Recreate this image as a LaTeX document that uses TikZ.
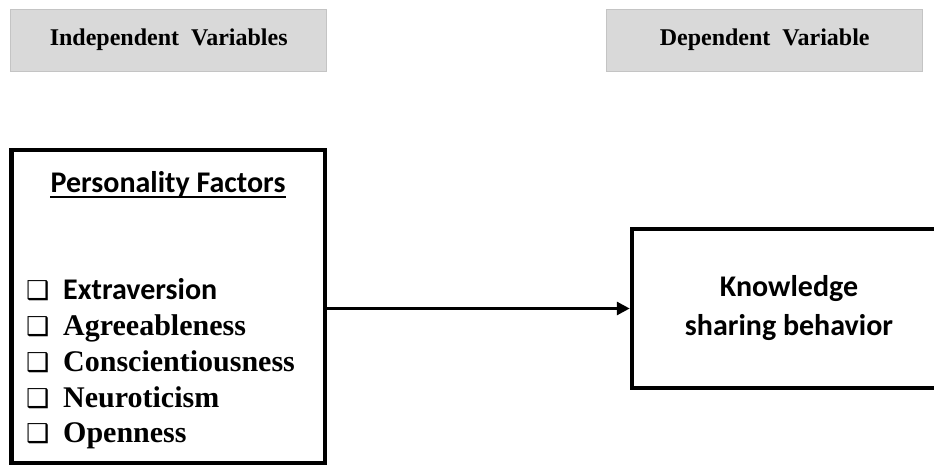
\documentclass[tikz,border=0pt]{standalone}
\usepackage{fontspec}
\setmainfont{Liberation Serif}
\newfontfamily\calib{Carlito}
\newfontfamily\symf{DejaVu Sans}
\usetikzlibrary{arrows.meta}
\definecolor{hdrgray}{HTML}{D9D9D9}
\definecolor{hdredge}{HTML}{C4C4C4}
\tikzset{
  hdr/.style={fill=hdrgray, draw=hdredge, line width=0.8pt, minimum width=316pt, minimum height=62pt,
    inner sep=0pt, font=\fontsize{24}{28}\selectfont\bfseries},
  bigbox/.style={draw=black, line width=4.5pt, inner sep=0pt},
  item/.style={anchor=base west, inner sep=0pt, font=\fontsize{30}{34}\selectfont\bfseries},
  conn/.style={draw=black, line width=3pt, -{Triangle[length=13pt,width=13pt]}},
  uline/.style={draw=black, line width=1.6pt},
}
\newcommand{\cbx}{\makebox[37pt][l]{\symf\fontsize{26}{30}\selectfont ❑}}
\begin{document}
\begin{tikzpicture}[x=1pt,y=-1pt]
\useasboundingbox (0,0) rectangle (934,465);
\node[hdr] (h1) at (168.7,40) {Independent\ \ Variables};
\node[hdr] (h2) at (764.7,40) {Dependent\ \ Variable};
\node[bigbox, minimum width=313.3pt, minimum height=313pt] (pf) at (168.35,306.5) {};
\node[bigbox, minimum width=314pt, minimum height=159pt, align=center,
  font=\calib\fontsize{30}{39}\selectfont\bfseries] (kb) at (789,308.5) {Knowledge\\sharing behavior};
\node[anchor=base, inner sep=0pt, font=\calib\fontsize{30}{34}\selectfont\bfseries] (pt) at (168,193) {Personality Factors};
\draw[uline] ([yshift=-4pt]pt.base west) -- ([yshift=-4pt]pt.base east);
\node[item] (i1) at (26,299) {\cbx{\calib Extraversion}};
\node[item] (i2) at (26,335) {\cbx Agreeableness};
\node[item] (i3) at (26,371) {\cbx Conscientiousness};
\node[item] (i4) at (26,407) {\cbx Neuroticism};
\node[item] (i5) at (26,442) {\cbx Openness};
\draw[conn] (pf.east |- kb.west) -- (kb.west);
\end{tikzpicture}
\end{document}
